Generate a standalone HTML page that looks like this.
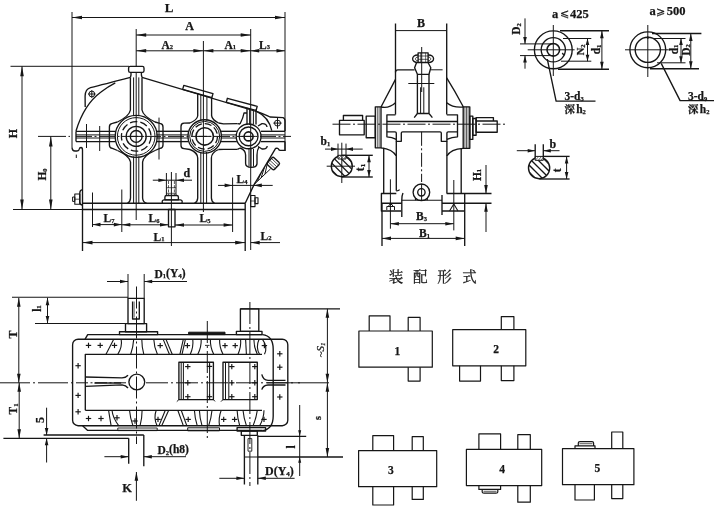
<!DOCTYPE html>
<html><head><meta charset="utf-8"><title>Gear reducer outline drawing</title>
<style>
html,body{margin:0;padding:0;background:#fff;}
body{width:720px;height:507px;overflow:hidden;}
svg{display:block;will-change:transform;}
svg text{font-family:"Liberation Serif","Noto Serif CJK SC",serif;fill:#161616;stroke:#161616;stroke-width:0.25px;}
</style></head><body>
<svg width="720" height="507" viewBox="0 0 720 507" fill="none" stroke="#161616" stroke-linecap="butt" stroke-linejoin="round">
<rect x="0" y="0" width="720" height="507" fill="#fff" stroke="none"/>
<g id="front-view">
<line x1="72.00" y1="12.00" x2="72.00" y2="147.40" stroke-width="1.0"/>
<line x1="285.00" y1="12.00" x2="285.00" y2="151.00" stroke-width="1.0"/>
<line x1="72.00" y1="17.50" x2="285.00" y2="17.50" stroke-width="1.0"/>
<polygon points="72.00,17.50 82.00,15.70 82.00,19.30" fill="#161616" stroke="none"/>
<polygon points="285.00,17.50 275.00,19.30 275.00,15.70" fill="#161616" stroke="none"/>
<text x="169.00" y="11.50" font-size="13" text-anchor="middle" font-weight="bold">L</text>
<line x1="136.20" y1="29.00" x2="136.20" y2="66.00" stroke-width="1.0"/>
<line x1="250.70" y1="29.00" x2="250.70" y2="250.00" stroke-width="1.0"/>
<line x1="136.20" y1="35.00" x2="250.70" y2="35.00" stroke-width="1.0"/>
<polygon points="136.20,35.00 146.20,33.20 146.20,36.80" fill="#161616" stroke="none"/>
<polygon points="250.70,35.00 240.70,36.80 240.70,33.20" fill="#161616" stroke="none"/>
<text x="189.50" y="29.50" font-size="12" text-anchor="middle" font-weight="bold">A</text>
<line x1="203.40" y1="41.00" x2="203.40" y2="212.00" stroke-width="1.0"/>
<line x1="136.20" y1="50.80" x2="203.40" y2="50.80" stroke-width="1.0"/>
<polygon points="136.20,50.80 146.20,49.00 146.20,52.60" fill="#161616" stroke="none"/>
<polygon points="203.40,50.80 193.40,52.60 193.40,49.00" fill="#161616" stroke="none"/>
<line x1="203.40" y1="50.80" x2="250.70" y2="50.80" stroke-width="1.0"/>
<polygon points="203.40,50.80 213.40,49.00 213.40,52.60" fill="#161616" stroke="none"/>
<polygon points="250.70,50.80 240.70,52.60 240.70,49.00" fill="#161616" stroke="none"/>
<line x1="250.70" y1="50.80" x2="285.00" y2="50.80" stroke-width="1.0"/>
<polygon points="250.70,50.80 259.20,49.00 259.20,52.60" fill="#161616" stroke="none"/>
<polygon points="285.00,50.80 276.50,52.60 276.50,49.00" fill="#161616" stroke="none"/>
<text x="161.50" y="48.50" font-size="11.5" text-anchor="start" font-weight="bold">A<tspan font-size="6.5" dy="0.8">2</tspan></text>
<text x="224.50" y="48.50" font-size="11.5" text-anchor="start" font-weight="bold">A<tspan font-size="6.5" dy="0.8">1</tspan></text>
<text x="259.00" y="48.50" font-size="11.5" text-anchor="start" font-weight="bold">L<tspan font-size="6.5" dy="0.8">3</tspan></text>
<line x1="10.50" y1="66.30" x2="129.00" y2="66.30" stroke-width="1.0"/>
<line x1="13.00" y1="209.50" x2="82.50" y2="209.50" stroke-width="1.0"/>
<line x1="22.00" y1="66.30" x2="22.00" y2="209.50" stroke-width="1.0"/>
<polygon points="22.00,66.30 23.80,76.30 20.20,76.30" fill="#161616" stroke="none"/>
<polygon points="22.00,209.50 20.20,199.50 23.80,199.50" fill="#161616" stroke="none"/>
<text x="17.00" y="133.50" font-size="12" text-anchor="middle" font-weight="bold" transform="rotate(-90 17.00 133.50)">H</text>
<line x1="50.80" y1="136.40" x2="50.80" y2="209.50" stroke-width="1.0"/>
<polygon points="50.80,136.40 52.60,146.40 49.00,146.40" fill="#161616" stroke="none"/>
<polygon points="50.80,209.50 49.00,199.50 52.60,199.50" fill="#161616" stroke="none"/>
<text x="46.00" y="174.50" font-size="11.5" text-anchor="middle" font-weight="bold" transform="rotate(-90 46.00 174.50)">H<tspan font-size="6.5" dy="0.8">0</tspan></text>
<line x1="38.00" y1="136.40" x2="66.00" y2="136.40" stroke-width="1.0"/>
<line x1="68.50" y1="136.40" x2="70.00" y2="136.40" stroke-width="1.0"/>
<line x1="76.00" y1="136.40" x2="291.00" y2="136.40" stroke-width="1.0" stroke-dasharray="16 2.5 2 2.5"/>
<line x1="136.20" y1="72.00" x2="136.20" y2="220.00" stroke-width="1.0"/>
<line x1="82.50" y1="203.20" x2="245.20" y2="203.20" stroke-width="1.35"/>
<line x1="82.50" y1="209.50" x2="245.20" y2="209.50" stroke-width="1.35"/>
<line x1="82.50" y1="150.00" x2="82.50" y2="251.00" stroke-width="1.35"/>
<line x1="245.20" y1="203.20" x2="245.20" y2="251.00" stroke-width="1.35"/>
<path d="M72,147.4 Q72.2,151 75,151 L77,151 Q79,151 79.3,149 Q79.5,147.5 81,147.5 Q82.5,147.6 82.5,150" stroke-width="1.35" fill="none"/>
<line x1="76.30" y1="154.60" x2="76.30" y2="158.00" stroke-width="1.0"/>
<line x1="76.00" y1="131.30" x2="115.50" y2="131.30" stroke-width="1.35"/>
<line x1="156.50" y1="131.30" x2="188.00" y2="131.30" stroke-width="1.35"/>
<line x1="221.00" y1="131.30" x2="236.80" y2="131.30" stroke-width="1.35"/>
<line x1="261.00" y1="131.30" x2="285.00" y2="131.30" stroke-width="1.35"/>
<line x1="76.00" y1="134.90" x2="115.50" y2="134.90" stroke-width="1.0"/>
<line x1="156.50" y1="134.90" x2="188.00" y2="134.90" stroke-width="1.0"/>
<line x1="221.00" y1="134.90" x2="236.80" y2="134.90" stroke-width="1.0"/>
<line x1="261.00" y1="134.90" x2="285.00" y2="134.90" stroke-width="1.0"/>
<line x1="76.00" y1="138.00" x2="115.50" y2="138.00" stroke-width="1.0"/>
<line x1="156.50" y1="138.00" x2="188.00" y2="138.00" stroke-width="1.0"/>
<line x1="221.00" y1="138.00" x2="236.80" y2="138.00" stroke-width="1.0"/>
<line x1="261.00" y1="138.00" x2="285.00" y2="138.00" stroke-width="1.0"/>
<line x1="76.00" y1="141.60" x2="115.50" y2="141.60" stroke-width="1.35"/>
<line x1="156.50" y1="141.60" x2="188.00" y2="141.60" stroke-width="1.35"/>
<line x1="221.00" y1="141.60" x2="236.80" y2="141.60" stroke-width="1.35"/>
<line x1="261.00" y1="141.60" x2="285.00" y2="141.60" stroke-width="1.35"/>
<line x1="76.00" y1="131.30" x2="76.00" y2="141.60" stroke-width="1.35"/>
<line x1="86.50" y1="124.00" x2="86.50" y2="148.00" stroke-width="1.0"/>
<line x1="99.70" y1="126.00" x2="99.70" y2="151.00" stroke-width="1.0"/>
<line x1="159.00" y1="117.60" x2="159.00" y2="159.50" stroke-width="1.0"/>
<path d="M76,131 C79,121 86,103 101,92 Q108,86.5 115.3,82.8" stroke-width="1.35" fill="none"/>
<path d="M85.2,107 L85.1,96 Q85.3,89 90.5,87.6 Q103,84.6 130.4,77.4" stroke-width="1.35" fill="none"/>
<circle cx="91.80" cy="94.00" r="2.90" stroke-width="1.0" fill="none"/>
<line x1="88.00" y1="94.00" x2="95.60" y2="94.00" stroke-width="1.0"/>
<line x1="91.80" y1="90.20" x2="91.80" y2="97.80" stroke-width="1.0"/>
<rect x="128.60" y="66.30" width="15.40" height="6.10" rx="1.6" stroke-width="1.35" fill="none"/>
<path d="M131,72.4 L131,75 L130.4,77.4 M141.4,72.4 L141.4,75 L142,77.4" stroke-width="1.35" fill="none"/>
<path d="M142,77.4 L257,111.7 Q266,115 270,117 L283,117.6 Q285,118.2 285,121 L285,131" stroke-width="1.35" fill="none"/>
<path d="M257,111.7 Q268.5,117 271.8,130.6" stroke-width="1.35" fill="none"/>
<circle cx="277.50" cy="123.10" r="3.00" stroke-width="1.0" fill="none"/>
<line x1="273.30" y1="123.10" x2="281.70" y2="123.10" stroke-width="1.0"/>
<line x1="277.50" y1="117.50" x2="277.50" y2="128.70" stroke-width="1.0"/>
<polygon points="183.80,85.40 213.00,93.60 211.86,97.64 182.66,89.44" stroke-width="1.35" fill="none"/>
<polygon points="227.40,98.30 257.20,106.30 256.11,110.36 226.31,102.36" stroke-width="1.35" fill="none"/>
<circle cx="136.20" cy="136.40" r="21.00" stroke-width="1.35" fill="none"/>
<circle cx="136.20" cy="136.40" r="18.80" stroke-width="1.0" fill="none"/>
<circle cx="136.20" cy="136.40" r="14.80" stroke-width="1.3" fill="none" stroke-dasharray="7.5 3"/>
<circle cx="136.20" cy="136.40" r="10.00" stroke-width="1.35" fill="none"/>
<circle cx="136.20" cy="136.40" r="5.90" stroke-width="1.35" fill="none"/>
<line x1="128.20" y1="136.40" x2="144.20" y2="136.40" stroke-width="1.0"/>
<line x1="130.40" y1="77.40" x2="130.40" y2="110.00" stroke-width="1.35"/>
<line x1="133.60" y1="77.40" x2="133.60" y2="116.00" stroke-width="1.0"/>
<line x1="138.80" y1="77.40" x2="138.80" y2="116.00" stroke-width="1.0"/>
<line x1="142.00" y1="77.40" x2="142.00" y2="110.00" stroke-width="1.35"/>
<path d="M130.4,110 Q129.5,116 117.5,122" stroke-width="1.35" fill="none"/>
<path d="M142,110 Q143,116 155,122" stroke-width="1.35" fill="none"/>
<path d="M117.5,122 L112.4,123.4 Q109.4,123.8 109.4,127 L109.4,145 Q109.4,148 112.4,148.4 L117.5,150.5" stroke-width="1.35" fill="none"/>
<path d="M155,122 L160,123.4 Q163,123.8 163,127 L163,145 Q163,148 160,148.4 L155,150.5" stroke-width="1.35" fill="none"/>
<path d="M117.5,150.5 Q129.5,156 130.5,162 L130.5,198 Q130.3,202 127.5,203.2" stroke-width="1.35" fill="none"/>
<path d="M155,150.5 Q143,156 142.6,162 L142.6,198 Q142.8,202 146.5,203.2" stroke-width="1.35" fill="none"/>
<line x1="133.60" y1="156.50" x2="133.60" y2="203.00" stroke-width="1.0"/>
<line x1="138.80" y1="156.50" x2="138.80" y2="203.00" stroke-width="1.0"/>
<circle cx="204.70" cy="136.40" r="16.70" stroke-width="1.35" fill="none"/>
<circle cx="204.70" cy="136.40" r="15.00" stroke-width="1.0" fill="none"/>
<circle cx="204.70" cy="136.40" r="12.80" stroke-width="1.3" fill="none" stroke-dasharray="7 3"/>
<circle cx="204.70" cy="136.40" r="8.70" stroke-width="1.6" fill="none"/>
<line x1="198.70" y1="136.40" x2="210.70" y2="136.40" stroke-width="1.0"/>
<line x1="197.70" y1="93.41" x2="197.70" y2="116.00" stroke-width="1.35"/>
<line x1="200.80" y1="94.28" x2="200.80" y2="121.00" stroke-width="1.0"/>
<line x1="206.90" y1="95.99" x2="206.90" y2="121.00" stroke-width="1.0"/>
<line x1="211.60" y1="97.31" x2="211.60" y2="116.00" stroke-width="1.35"/>
<path d="M197.7,116 Q197,120 190,123" stroke-width="1.35" fill="none"/>
<path d="M211.6,116 Q212.5,120 218.5,123" stroke-width="1.35" fill="none"/>
<path d="M190,123 L184,123.2 Q181,123.4 181,126.5 L181,145.5 Q181,148.3 184,148.6 L190,149.5" stroke-width="1.35" fill="none"/>
<path d="M218.5,123 L223.5,123.8 L237.5,123.6 M218.5,149.5 L223.5,149.3 L237.5,149.3" stroke-width="1.35" fill="none"/>
<path d="M190,149.5 Q197.5,152.5 197.7,158 L197.7,198 Q197.5,202 194.5,203.2" stroke-width="1.35" fill="none"/>
<path d="M218.5,149.5 Q211.5,152.5 211.4,158 L211.4,198 Q211.6,202 214.5,203.2" stroke-width="1.35" fill="none"/>
<line x1="200.80" y1="152.00" x2="200.80" y2="203.00" stroke-width="1.0"/>
<line x1="206.60" y1="152.00" x2="206.60" y2="203.00" stroke-width="1.0"/>
<circle cx="248.60" cy="136.40" r="12.40" stroke-width="1.35" fill="none"/>
<circle cx="248.60" cy="136.40" r="9.40" stroke-width="1.35" fill="none"/>
<circle cx="248.60" cy="136.40" r="4.50" stroke-width="1.6" fill="none"/>
<line x1="241.60" y1="136.40" x2="255.60" y2="136.40" stroke-width="1.0"/>
<line x1="247.00" y1="107.65" x2="247.00" y2="124.50" stroke-width="1.35"/>
<line x1="249.60" y1="108.35" x2="249.60" y2="124.50" stroke-width="1.0"/>
<line x1="253.40" y1="109.37" x2="253.40" y2="124.50" stroke-width="1.0"/>
<line x1="256.00" y1="110.06" x2="256.00" y2="124.50" stroke-width="1.35"/>
<path d="M247,113 L244,113 Q243.2,118 240,124" stroke-width="1.35" fill="none"/>
<path d="M240,124 L237.5,123.6 M237.5,149.3 L240,148" stroke-width="1.35" fill="none"/>
<path d="M258,126 L262,123.6 Q266.5,123.4 267,127 M258,146.5 L262,149 Q267,149.4 267.2,146 " stroke-width="1.35" fill="none"/>
<path d="M240,148 Q245.6,150 245.6,155 L245.6,163.6 Q245.6,167.4 251.3,167.4 Q257,167.4 257,163.6 L257,155 Q257,150 259,147" stroke-width="1.35" fill="none"/>
<line x1="249.00" y1="149.00" x2="249.00" y2="166.50" stroke-width="1.0"/>
<line x1="251.20" y1="149.00" x2="251.20" y2="167.00" stroke-width="0.7"/>
<line x1="253.50" y1="149.00" x2="253.50" y2="166.50" stroke-width="1.0"/>
<path d="M285,141.4 L285,150.4 L280.4,150.4 Q279,150.4 278.6,149.2 Q278.2,148.1 277,148.1 L275.6,148.3 L254.2,184.4 L245.2,203.2" stroke-width="1.35" fill="none"/>
<path d="M254.2,184.4 L270.6,168.8 M257.6,180.9 L260.8,173.5 M261.2,177.6 L264.4,167.5 M265,173.9 L267.6,162.2" stroke-width="1.0" fill="none"/>
<g transform="rotate(-47 273.4 163.6)">
<rect x="268.60" y="158.60" width="9.60" height="9.80" rx="1.8" stroke-width="1.35" fill="none"/>
<line x1="271.00" y1="158.60" x2="271.00" y2="168.40" stroke-width="0.7"/>
<line x1="273.40" y1="158.60" x2="273.40" y2="168.40" stroke-width="0.7"/>
<line x1="275.80" y1="158.60" x2="275.80" y2="168.40" stroke-width="0.7"/>
</g>
<path d="M82.5,189.6 Q79.8,190 79.8,193 L79.8,202 Q79.8,205 82.5,205" stroke-width="1.35" fill="none"/>
<rect x="74.80" y="194.00" width="5.00" height="10.30" rx="0" stroke-width="1.1" fill="none"/>
<line x1="74.80" y1="199.20" x2="79.80" y2="199.20" stroke-width="0.7"/>
<rect x="72.60" y="197.00" width="2.20" height="4.40" rx="0" stroke-width="1.0" fill="none"/>
<rect x="250.70" y="195.50" width="4.30" height="11.10" rx="0" stroke-width="1.1" fill="none"/>
<rect x="255.00" y="197.70" width="3.00" height="5.90" rx="0" stroke-width="1.1" fill="none"/>
<line x1="250.70" y1="201.00" x2="255.00" y2="201.00" stroke-width="0.7"/>
<line x1="166.40" y1="173.00" x2="166.40" y2="195.50" stroke-width="1.0"/>
<line x1="176.00" y1="173.00" x2="176.00" y2="195.50" stroke-width="1.0"/>
<line x1="168.50" y1="181.00" x2="168.50" y2="195.50" stroke-width="0.7" stroke-dasharray="3 1.2"/>
<line x1="174.40" y1="181.00" x2="174.40" y2="195.50" stroke-width="0.7" stroke-dasharray="3 1.2"/>
<line x1="166.40" y1="187.70" x2="176.00" y2="187.70" stroke-width="0.7"/>
<line x1="166.40" y1="193.30" x2="176.00" y2="193.30" stroke-width="0.7"/>
<path d="M164.9,199.8 L164.9,197 Q165,195.5 166.6,195.5 L176.8,195.5 Q178.3,195.5 178.4,197 L178.4,199.8 Z" stroke-width="1.35" fill="none"/>
<path d="M162.4,203.2 Q161.6,200 164,199.8 L180.4,199.8 Q182.8,200 182,203.2" stroke-width="1.35" fill="none"/>
<rect x="168.50" y="209.50" width="6.50" height="17.30" rx="0" stroke-width="1.35" fill="none"/>
<line x1="171.40" y1="172.00" x2="171.40" y2="246.00" stroke-width="1.0"/>
<line x1="152.80" y1="180.20" x2="192.00" y2="180.20" stroke-width="1.0"/>
<polygon points="166.40,180.20 158.40,182.00 158.40,178.40" fill="#161616" stroke="none"/>
<polygon points="176.00,180.20 184.00,178.40 184.00,182.00" fill="#161616" stroke="none"/>
<text x="183.50" y="176.60" font-size="12" text-anchor="start" font-weight="bold">d</text>
<line x1="232.60" y1="177.50" x2="232.60" y2="232.00" stroke-width="1.0"/>
<line x1="218.00" y1="185.40" x2="272.70" y2="185.40" stroke-width="1.0"/>
<polygon points="232.60,185.40 224.60,187.20 224.60,183.60" fill="#161616" stroke="none"/>
<polygon points="253.80,185.40 261.80,183.60 261.80,187.20" fill="#161616" stroke="none"/>
<text x="236.50" y="183.00" font-size="11.5" text-anchor="start" font-weight="bold">L<tspan font-size="6.5" dy="0.8">4</tspan></text>
<line x1="92.50" y1="192.50" x2="92.50" y2="227.00" stroke-width="1.0"/>
<line x1="121.80" y1="189.50" x2="121.80" y2="232.00" stroke-width="1.0"/>
<line x1="92.50" y1="224.60" x2="121.80" y2="224.60" stroke-width="1.0"/>
<polygon points="92.50,224.60 100.50,222.80 100.50,226.40" fill="#161616" stroke="none"/>
<polygon points="121.80,224.60 113.80,226.40 113.80,222.80" fill="#161616" stroke="none"/>
<line x1="121.80" y1="224.80" x2="168.50" y2="224.80" stroke-width="1.0"/>
<polygon points="121.80,224.80 130.30,223.00 130.30,226.60" fill="#161616" stroke="none"/>
<polygon points="168.50,224.80 160.00,226.60 160.00,223.00" fill="#161616" stroke="none"/>
<line x1="175.00" y1="225.00" x2="232.60" y2="225.00" stroke-width="1.0"/>
<polygon points="175.00,225.00 184.00,223.20 184.00,226.80" fill="#161616" stroke="none"/>
<polygon points="232.60,225.00 223.60,226.80 223.60,223.20" fill="#161616" stroke="none"/>
<text x="103.50" y="222.00" font-size="11.5" text-anchor="start" font-weight="bold">L<tspan font-size="6.5" dy="0.8">7</tspan></text>
<text x="148.50" y="222.00" font-size="11.5" text-anchor="start" font-weight="bold">L<tspan font-size="6.5" dy="0.8">6</tspan></text>
<text x="199.50" y="221.80" font-size="11.5" text-anchor="start" font-weight="bold">L<tspan font-size="6.5" dy="0.8">5</tspan></text>
<line x1="82.50" y1="242.60" x2="245.20" y2="242.60" stroke-width="1.0"/>
<polygon points="82.50,242.60 92.50,240.80 92.50,244.40" fill="#161616" stroke="none"/>
<polygon points="245.20,242.60 235.20,244.40 235.20,240.80" fill="#161616" stroke="none"/>
<text x="153.50" y="240.50" font-size="11.5" text-anchor="start" font-weight="bold">L<tspan font-size="6.5" dy="0.8">1</tspan></text>
<line x1="250.70" y1="242.60" x2="280.00" y2="242.60" stroke-width="1.0"/>
<polygon points="250.70,242.60 259.70,240.80 259.70,244.40" fill="#161616" stroke="none"/>
<text x="260.50" y="239.50" font-size="11.5" text-anchor="start" font-weight="bold">L<tspan font-size="6.5" dy="0.8">2</tspan></text>
</g>
<g id="side-view">
<line x1="395.50" y1="23.50" x2="395.50" y2="114.60" stroke-width="1.35"/>
<line x1="446.70" y1="23.50" x2="446.70" y2="114.60" stroke-width="1.35"/>
<line x1="395.50" y1="30.60" x2="446.70" y2="30.60" stroke-width="1.0"/>
<polygon points="395.50,30.60 395.51,28.80 395.51,32.40" fill="#161616" stroke="none"/>
<polygon points="446.70,30.60 446.69,32.40 446.69,28.80" fill="#161616" stroke="none"/>
<text x="421.00" y="26.50" font-size="12" text-anchor="middle" font-weight="bold">B</text>
<path d="M395.5,72.2 Q395.5,69.8 397.8,69.8 L414.6,69.8" stroke-width="1.35" fill="none"/>
<line x1="430.80" y1="69.80" x2="442.60" y2="69.80" stroke-width="1.0"/>
<line x1="408.30" y1="83.50" x2="434.30" y2="83.50" stroke-width="1.0"/>
<line x1="421.70" y1="47.00" x2="421.70" y2="92.00" stroke-width="1.0"/>
<rect x="418.10" y="52.80" width="10.00" height="9.70" rx="0" stroke-width="1.35" fill="none"/>
<line x1="418.10" y1="56.00" x2="428.10" y2="56.00" stroke-width="0.7"/>
<line x1="418.10" y1="59.30" x2="428.10" y2="59.30" stroke-width="0.7"/>
<line x1="420.60" y1="52.80" x2="420.60" y2="62.50" stroke-width="0.6"/>
<line x1="425.60" y1="52.80" x2="425.60" y2="62.50" stroke-width="0.6"/>
<path d="M418.1,55 C411,54.6 410.6,62.7 418.1,62.5 M428.1,55 C435.2,54.6 435.6,62.7 428.1,62.5" stroke-width="1.35" fill="none"/>
<path d="M418.1,57 C414.6,57 414.6,60.8 418.1,60.8 M428.1,57 C431.6,57 431.6,60.8 428.1,60.8" stroke-width="0.8" fill="none"/>
<path d="M416.6,62.5 L414.6,67.8 L417.4,74.3 L429,74.3 L430.8,67.8 L428,62.5" stroke-width="1.35" fill="none"/>
<line x1="417.40" y1="74.30" x2="417.40" y2="113.50" stroke-width="1.35"/>
<line x1="429.00" y1="74.30" x2="429.00" y2="113.50" stroke-width="1.35"/>
<line x1="420.60" y1="87.30" x2="420.60" y2="113.50" stroke-width="1.0"/>
<line x1="423.80" y1="87.30" x2="423.80" y2="113.50" stroke-width="1.0"/>
<path d="M417.4,113.5 L414.2,117.6 M429,113.5 L432.4,117.6 M417.4,113.5 L429,113.5" stroke-width="1.35" fill="none"/>
<path d="M395.5,79.4 L381,107 M381,107 Q389,108.8 395.5,102.8" stroke-width="1.35" fill="none"/>
<path d="M446.7,77.8 Q455,91 463.4,107 M463.4,107 Q453,108 446.7,102.8" stroke-width="1.35" fill="none"/>
<rect x="375.30" y="106.80" width="5.70" height="41.00" rx="0" stroke-width="1.35" fill="none"/>
<line x1="377.30" y1="106.80" x2="377.30" y2="147.80" stroke-width="0.7"/>
<line x1="379.10" y1="106.80" x2="379.10" y2="147.80" stroke-width="0.7"/>
<rect x="463.20" y="106.80" width="6.60" height="41.50" rx="0" stroke-width="1.35" fill="none"/>
<line x1="464.90" y1="106.80" x2="464.90" y2="148.30" stroke-width="0.7"/>
<line x1="466.50" y1="106.80" x2="466.50" y2="148.30" stroke-width="0.7"/>
<line x1="468.10" y1="106.80" x2="468.10" y2="148.30" stroke-width="0.7"/>
<rect x="339.50" y="120.40" width="24.70" height="14.40" rx="0" stroke-width="1.35" fill="none"/>
<path d="M343.4,120.2 L343.4,115.5 L362.6,115.5 L362.6,120.2" stroke-width="1.35" fill="none"/>
<rect x="366.20" y="116.10" width="9.10" height="21.60" rx="0" stroke-width="1.35" fill="none"/>
<rect x="469.80" y="116.10" width="3.00" height="23.30" rx="0" stroke-width="1.35" fill="none"/>
<rect x="472.80" y="118.50" width="3.30" height="16.70" rx="0" stroke-width="1.35" fill="none"/>
<rect x="476.10" y="121.00" width="21.10" height="11.20" rx="0" stroke-width="1.35" fill="none"/>
<path d="M476.1,121 L476.1,117.6 L493.4,117.6 L493.4,121" stroke-width="1.35" fill="none"/>
<line x1="332.50" y1="124.20" x2="507.00" y2="124.20" stroke-width="1.0" stroke-dasharray="18 2.5 2 2.5"/>
<path d="M395.5,114.8 L386.9,114.8 L386.9,136.8 Q392,136.9 396.3,139.4" stroke-width="1.35" fill="none"/>
<path d="M446.8,114.8 L457.5,114.8 L457.5,136.8 Q452,136.9 446.9,139.4" stroke-width="1.35" fill="none"/>
<line x1="386.90" y1="121.50" x2="457.50" y2="121.50" stroke-width="1.6"/>
<path d="M386.9,131.8 L395,131.8 Q396.3,131.8 396.3,133 L396.3,141.3 L401.3,141.3 L401.3,133 Q401.3,131.8 402.6,131.8 L440,131.8 Q441.3,131.8 441.3,133 L441.3,141.3 L446.9,141.3 L446.9,133 Q446.9,131.8 448.2,131.8 L457.5,131.8" stroke-width="1.35" fill="none"/>
<line x1="396.30" y1="141.30" x2="396.30" y2="156.00" stroke-width="1.35"/>
<line x1="446.90" y1="141.30" x2="446.90" y2="156.00" stroke-width="1.35"/>
<path d="M381,147.8 Q392.5,149 396.3,156 L396.3,190.8" stroke-width="1.35" fill="none"/>
<path d="M463.2,148.3 Q450.7,149 446.9,156 L446.9,193.5" stroke-width="1.35" fill="none"/>
<line x1="383.70" y1="147.80" x2="383.70" y2="193.50" stroke-width="1.35"/>
<line x1="461.20" y1="148.30" x2="461.20" y2="193.50" stroke-width="1.35"/>
<line x1="421.60" y1="131.80" x2="421.60" y2="182.00" stroke-width="1.0" stroke-dasharray="14 2.5 2 2.5"/>
<circle cx="421.40" cy="192.30" r="8.30" stroke-width="1.35" fill="none"/>
<circle cx="421.40" cy="192.30" r="3.70" stroke-width="1.35" fill="none"/>
<line x1="421.60" y1="184.00" x2="421.60" y2="201.00" stroke-width="1.0"/>
<path d="M415.6,198.3 L415.6,200.2 M427.2,198.3 L427.2,200.2" stroke-width="1.35" fill="none"/>
<path d="M396.3,193.5 L381.4,193.5 L381.4,211 L401,211 M381.4,203.2 L401.8,203.2" stroke-width="1.35" fill="none"/>
<path d="M396.3,190.8 Q398.5,191 399.6,189.6 M403,193 Q401.6,196 401.8,200 M401.8,200 L401.8,217" stroke-width="1.35" fill="none"/>
<line x1="401.80" y1="200.20" x2="442.00" y2="200.20" stroke-width="1.1"/>
<path d="M442,195 L442,215 M442,203.2 L491.5,203.2 M442,211 L464.7,211" stroke-width="1.35" fill="none"/>
<path d="M446.7,193.5 L491.5,193.5" stroke-width="1.35" fill="none"/>
<line x1="464.70" y1="193.50" x2="464.70" y2="246.00" stroke-width="1.35"/>
<line x1="382.00" y1="203.20" x2="382.00" y2="246.00" stroke-width="1.35"/>
<path d="M449.5,211 L453.8,204 L458,211" stroke-width="1.1" fill="none"/>
<path d="M386.8,210 L386.8,206.5 L394.5,206.5 L394.5,210 M388.5,206.5 L389.5,204.5 L392,204.5 L393,206.5" stroke-width="1.0" fill="none"/>
<line x1="390.40" y1="179.30" x2="390.40" y2="228.70" stroke-width="1.0"/>
<line x1="453.80" y1="180.00" x2="453.80" y2="230.40" stroke-width="1.0"/>
<line x1="390.40" y1="223.70" x2="453.80" y2="223.70" stroke-width="1.0"/>
<polygon points="390.40,223.70 398.90,221.90 398.90,225.50" fill="#161616" stroke="none"/>
<polygon points="453.80,223.70 445.30,225.50 445.30,221.90" fill="#161616" stroke="none"/>
<text x="416.00" y="219.80" font-size="11.5" text-anchor="start" font-weight="bold">B<tspan font-size="6.5" dy="0.8">3</tspan></text>
<line x1="382.00" y1="238.40" x2="464.70" y2="238.40" stroke-width="1.0"/>
<polygon points="382.00,238.40 391.00,236.60 391.00,240.20" fill="#161616" stroke="none"/>
<polygon points="464.70,238.40 455.70,240.20 455.70,236.60" fill="#161616" stroke="none"/>
<text x="419.00" y="237.20" font-size="11.5" text-anchor="start" font-weight="bold">B<tspan font-size="6.5" dy="0.8">1</tspan></text>
<line x1="486.00" y1="165.00" x2="486.00" y2="193.50" stroke-width="1.0"/>
<polygon points="486.00,193.50 484.20,185.00 487.80,185.00" fill="#161616" stroke="none"/>
<line x1="486.00" y1="203.20" x2="486.00" y2="232.00" stroke-width="1.0"/>
<polygon points="486.00,203.20 487.80,211.70 484.20,211.70" fill="#161616" stroke="none"/>
<text x="480.50" y="175.00" font-size="11.5" text-anchor="middle" font-weight="bold" transform="rotate(-90 480.50 175.00)">H<tspan font-size="6.5" dy="0.8">1</tspan></text>
</g>
<g id="details">
<text x="552.00" y="17.60" font-size="12.5" text-anchor="start" font-weight="bold">a</text>
<text x="559.60" y="17.40" font-size="10.8" text-anchor="start" font-weight="normal" font-family='"DejaVu Sans","Liberation Serif",sans-serif'>⩽</text>
<text x="570.00" y="17.60" font-size="12.5" text-anchor="start" font-weight="bold">425</text>
<circle cx="553.30" cy="49.80" r="18.90" stroke-width="1.35" fill="none"/>
<circle cx="553.30" cy="49.80" r="12.10" stroke-width="1.35" fill="none"/>
<circle cx="553.30" cy="49.80" r="6.30" stroke-width="1.6" fill="none"/>
<line x1="553.30" y1="25.00" x2="553.30" y2="76.00" stroke-width="1.0"/>
<line x1="527.70" y1="49.80" x2="574.60" y2="49.80" stroke-width="1.0"/>
<line x1="520.00" y1="43.90" x2="553.00" y2="43.90" stroke-width="1.0"/>
<line x1="520.00" y1="55.60" x2="553.00" y2="55.60" stroke-width="1.0"/>
<line x1="525.00" y1="18.40" x2="525.00" y2="43.90" stroke-width="1.0"/>
<polygon points="525.00,43.90 523.20,36.90 526.80,36.90" fill="#161616" stroke="none"/>
<line x1="525.00" y1="55.60" x2="525.00" y2="68.70" stroke-width="1.0"/>
<polygon points="525.00,55.60 526.80,62.60 523.20,62.60" fill="#161616" stroke="none"/>
<text x="520.30" y="29.00" font-size="11.5" text-anchor="middle" font-weight="bold" transform="rotate(-90 520.30 29.00)">D<tspan font-size="6.5" dy="0.8">2</tspan></text>
<line x1="560.00" y1="30.70" x2="609.00" y2="30.70" stroke-width="1.35"/>
<line x1="558.00" y1="69.20" x2="609.00" y2="69.20" stroke-width="1.35"/>
<line x1="601.90" y1="30.70" x2="601.90" y2="69.20" stroke-width="1.0"/>
<polygon points="601.90,30.70 603.70,38.20 600.10,38.20" fill="#161616" stroke="none"/>
<polygon points="601.90,69.20 600.10,61.70 603.70,61.70" fill="#161616" stroke="none"/>
<text x="600.00" y="49.50" font-size="11.5" text-anchor="middle" font-weight="bold" transform="rotate(-90 600.00 49.50)">d<tspan font-size="6.5" dy="0.8">1</tspan></text>
<line x1="563.00" y1="38.50" x2="591.30" y2="38.50" stroke-width="1.0"/>
<line x1="561.00" y1="61.20" x2="591.30" y2="61.20" stroke-width="1.0"/>
<line x1="587.50" y1="38.50" x2="587.50" y2="61.20" stroke-width="1.0"/>
<polygon points="587.50,38.50 589.30,45.00 585.70,45.00" fill="#161616" stroke="none"/>
<polygon points="587.50,61.20 585.70,54.70 589.30,54.70" fill="#161616" stroke="none"/>
<text x="584.30" y="49.80" font-size="10.5" text-anchor="middle" font-weight="bold" transform="rotate(-90 584.30 49.80)">N<tspan font-size="6.5" dy="0.8">2</tspan></text>
<path d="M562.3,53 L563.8,55.2" stroke-width="1.35" fill="none"/>
<path d="M547.3,59.2 L556.1,101.1 L595.5,101.1" stroke-width="1.35" fill="none"/>
<text x="564.50" y="100.20" font-size="11.5" text-anchor="start" font-weight="bold">3-d<tspan font-size="6.5" dy="0.8">3</tspan></text>
<text x="564.60" y="112.80" font-size="10.5" text-anchor="start" font-weight="bold" font-family='"Liberation Serif","Noto Serif CJK SC",serif'>深</text>
<text x="576.20" y="113.20" font-size="11.5" text-anchor="start" font-weight="bold">h<tspan font-size="6.5" dy="0.8">2</tspan></text>
<text x="649.40" y="15.00" font-size="12.5" text-anchor="start" font-weight="bold">a</text>
<text x="656.40" y="14.80" font-size="10.8" text-anchor="start" font-weight="normal" font-family='"DejaVu Sans","Liberation Serif",sans-serif'>⩾</text>
<text x="666.80" y="15.00" font-size="12.5" text-anchor="start" font-weight="bold">500</text>
<circle cx="647.80" cy="49.80" r="17.90" stroke-width="1.35" fill="none"/>
<circle cx="647.80" cy="49.80" r="12.60" stroke-width="1.4" fill="none"/>
<line x1="647.80" y1="25.00" x2="647.80" y2="77.00" stroke-width="1.0"/>
<line x1="625.00" y1="49.80" x2="668.70" y2="49.80" stroke-width="1.0"/>
<line x1="652.00" y1="33.50" x2="701.40" y2="33.50" stroke-width="1.35"/>
<line x1="650.00" y1="68.70" x2="699.00" y2="68.70" stroke-width="1.35"/>
<line x1="690.80" y1="33.50" x2="690.80" y2="68.70" stroke-width="1.0"/>
<polygon points="690.80,33.50 692.60,41.00 689.00,41.00" fill="#161616" stroke="none"/>
<polygon points="690.80,68.70 689.00,61.20 692.60,61.20" fill="#161616" stroke="none"/>
<text x="689.50" y="50.00" font-size="11.5" text-anchor="middle" font-weight="bold" transform="rotate(-90 689.50 50.00)">D<tspan font-size="6.5" dy="0.8">2</tspan></text>
<line x1="654.00" y1="38.50" x2="685.50" y2="38.50" stroke-width="1.0"/>
<line x1="657.00" y1="62.80" x2="685.50" y2="62.80" stroke-width="1.0"/>
<line x1="681.00" y1="38.50" x2="681.00" y2="62.80" stroke-width="1.0"/>
<polygon points="681.00,38.50 682.80,45.00 679.20,45.00" fill="#161616" stroke="none"/>
<polygon points="681.00,62.80 679.20,56.30 682.80,56.30" fill="#161616" stroke="none"/>
<text x="677.60" y="49.50" font-size="11.5" text-anchor="middle" font-weight="bold" transform="rotate(-90 677.60 49.50)">d<tspan font-size="6.5" dy="0.8">1</tspan></text>
<circle cx="647.80" cy="37.60" r="0.90" stroke-width="0.8" fill="#161616"/>
<path d="M661.2,63.4 L680.1,100.6 L714,100.6" stroke-width="1.35" fill="none"/>
<text x="688.00" y="99.80" font-size="11.5" text-anchor="start" font-weight="bold">3-d<tspan font-size="6.5" dy="0.8">9</tspan></text>
<text x="688.00" y="112.60" font-size="10.5" text-anchor="start" font-weight="bold" font-family='"Liberation Serif","Noto Serif CJK SC",serif'>深</text>
<text x="699.80" y="113.00" font-size="11.5" text-anchor="start" font-weight="bold">h<tspan font-size="6.5" dy="0.8">2</tspan></text>
<defs><clipPath id="k1"><circle cx="341.8" cy="166.2" r="10.4"/></clipPath><clipPath id="k2"><circle cx="539.1" cy="168.1" r="10.5"/></clipPath></defs>
<circle cx="341.80" cy="166.20" r="10.50" stroke-width="1.4" fill="none"/>
<g clip-path="url(#k1)">
<line x1="315.80" y1="154.20" x2="339.80" y2="178.20" stroke-width="1.3"/>
<line x1="322.80" y1="154.20" x2="346.80" y2="178.20" stroke-width="1.3"/>
<line x1="329.80" y1="154.20" x2="353.80" y2="178.20" stroke-width="1.3"/>
<line x1="336.80" y1="154.20" x2="360.80" y2="178.20" stroke-width="1.3"/>
<line x1="343.80" y1="154.20" x2="367.80" y2="178.20" stroke-width="1.3"/>
</g>
<rect x="338.00" y="155.30" width="8.00" height="3.70" rx="0" stroke-width="1.0" fill="#fff"/>
<path d="M338.6,158.5 L341,155.8 M341.3,158.7 L343.7,155.8 M344,158.7 L345.6,156.5" stroke-width="0.6" fill="none"/>
<line x1="326.70" y1="166.20" x2="355.00" y2="166.20" stroke-width="1.0"/>
<line x1="341.80" y1="142.70" x2="341.80" y2="183.00" stroke-width="1.0"/>
<line x1="338.00" y1="143.60" x2="338.00" y2="157.00" stroke-width="1.0"/>
<line x1="346.00" y1="143.60" x2="346.00" y2="157.00" stroke-width="1.0"/>
<line x1="325.00" y1="149.10" x2="362.70" y2="149.10" stroke-width="1.0"/>
<polygon points="338.00,149.10 331.00,150.90 331.00,147.30" fill="#161616" stroke="none"/>
<polygon points="346.00,149.10 353.00,147.30 353.00,150.90" fill="#161616" stroke="none"/>
<text x="320.50" y="144.80" font-size="11.5" text-anchor="start" font-weight="bold">b<tspan font-size="6.5" dy="0.8">1</tspan></text>
<line x1="341.80" y1="155.30" x2="372.80" y2="155.30" stroke-width="1.35"/>
<line x1="341.80" y1="177.00" x2="372.80" y2="177.00" stroke-width="1.35"/>
<line x1="369.00" y1="155.30" x2="369.00" y2="177.00" stroke-width="1.0"/>
<polygon points="369.00,155.30 370.80,162.30 367.20,162.30" fill="#161616" stroke="none"/>
<polygon points="369.00,177.00 367.20,170.00 370.80,170.00" fill="#161616" stroke="none"/>
<text x="364.30" y="167.50" font-size="11.5" text-anchor="middle" font-weight="bold" transform="rotate(-90 364.30 167.50)">t<tspan font-size="7" dy="0.8">1</tspan></text>
<circle cx="539.10" cy="168.10" r="10.60" stroke-width="1.4" fill="none"/>
<g clip-path="url(#k2)">
<line x1="513.10" y1="156.10" x2="537.10" y2="180.10" stroke-width="1.3"/>
<line x1="520.10" y1="156.10" x2="544.10" y2="180.10" stroke-width="1.3"/>
<line x1="527.10" y1="156.10" x2="551.10" y2="180.10" stroke-width="1.3"/>
<line x1="534.10" y1="156.10" x2="558.10" y2="180.10" stroke-width="1.3"/>
<line x1="541.10" y1="156.10" x2="565.10" y2="180.10" stroke-width="1.3"/>
</g>
<rect x="535.20" y="156.40" width="8.10" height="3.90" rx="0" stroke-width="1.0" fill="#fff"/>
<path d="M535.8,159.8 L538.2,157 M538.6,160 L541,157 M541.3,160 L542.9,157.8" stroke-width="0.6" fill="none"/>
<line x1="535.20" y1="144.30" x2="535.20" y2="157.70" stroke-width="1.35"/>
<line x1="543.30" y1="144.30" x2="543.30" y2="157.70" stroke-width="1.35"/>
<line x1="516.80" y1="150.70" x2="535.20" y2="150.70" stroke-width="1.0"/>
<polygon points="535.20,150.70 527.70,152.50 527.70,148.90" fill="#161616" stroke="none"/>
<line x1="543.30" y1="150.70" x2="559.50" y2="150.70" stroke-width="1.0"/>
<polygon points="543.30,150.70 550.80,148.90 550.80,152.50" fill="#161616" stroke="none"/>
<text x="549.60" y="147.70" font-size="12" text-anchor="start" font-weight="bold">b</text>
<line x1="543.60" y1="156.40" x2="569.60" y2="156.40" stroke-width="1.35"/>
<line x1="539.40" y1="179.00" x2="569.60" y2="179.00" stroke-width="1.35"/>
<line x1="566.60" y1="156.40" x2="566.60" y2="179.00" stroke-width="1.0"/>
<polygon points="566.60,156.40 568.40,163.40 564.80,163.40" fill="#161616" stroke="none"/>
<polygon points="566.60,179.00 564.80,172.00 568.40,172.00" fill="#161616" stroke="none"/>
<text x="561.00" y="170.30" font-size="11.5" text-anchor="middle" font-weight="bold" transform="rotate(-90 561.00 170.30)">t</text>
</g>
<g id="plan-view">
<rect x="72.60" y="339.20" width="215.20" height="86.50" rx="5.5" stroke-width="1.35" fill="none"/>
<path d="M85.3,410.3 L85.3,354.3 L262,354.3 M85.3,410.3 L262,410.3" stroke-width="1.35" fill="none"/>
<path d="M262.5,334.6 Q273.2,336 273.2,349 L273.2,416 Q273.2,429 262.5,430.6" stroke-width="1.35" fill="none"/>
<path d="M85.1,339.2 L87.7,334.6 L262.5,334.6" stroke-width="1.35" fill="none"/>
<path d="M82.6,425.7 L87.7,430.4 L262.5,430.4" stroke-width="1.35" fill="none"/>
<line x1="0.00" y1="382.80" x2="72.00" y2="382.80" stroke-width="1.0" stroke-dasharray="30 3 2 3"/>
<line x1="76.00" y1="382.80" x2="128.00" y2="382.80" stroke-width="1.0" stroke-dasharray="12 2.5 2 2.5"/>
<line x1="146.00" y1="382.80" x2="296.00" y2="382.80" stroke-width="1.0" stroke-dasharray="22 3 2 3"/>
<line x1="298.00" y1="382.80" x2="329.00" y2="382.80" stroke-width="1.0"/>
<line x1="136.50" y1="286.50" x2="136.50" y2="444.00" stroke-width="1.0" stroke-dasharray="22 3 2 3"/>
<line x1="207.30" y1="321.00" x2="207.30" y2="440.50" stroke-width="1.0" stroke-dasharray="22 3 2 3"/>
<line x1="249.90" y1="302.00" x2="249.90" y2="486.00" stroke-width="1.0" stroke-dasharray="22 3 2 3"/>
<circle cx="136.80" cy="382.00" r="7.90" stroke-width="1.35" fill="none"/>
<path d="M85.3,377 L122,377.8 Q126,377.6 128,375.2" stroke-width="1.35" fill="none"/>
<path d="M85.3,386.3 L122,384.8 Q126,385.2 128,388" stroke-width="1.35" fill="none"/>
<line x1="94.40" y1="383.00" x2="121.20" y2="383.00" stroke-width="1.4"/>
<path d="M261.8,374.4 Q263,380 268,380.3 L285.5,380.3 M261.8,389.6 Q263,385.3 268,385 L285.5,385" stroke-width="1.35" fill="none"/>
<line x1="267.00" y1="382.80" x2="300.00" y2="382.80" stroke-width="1.0"/>
<path d="M113.6,339.4 Q109.8,346.9 106.0,354.3" stroke-width="1.1" fill="none"/>
<path d="M121.2,339.4 Q122.5,346.9 117.8,354.3" stroke-width="1.1" fill="none"/>
<path d="M133.7,339.4 Q133.2,346.9 130.7,354.3" stroke-width="1.1" fill="none"/>
<path d="M141.8,339.4 Q141.8,346.9 143.8,354.3" stroke-width="1.1" fill="none"/>
<path d="M153.8,339.4 Q154.1,346.9 157.4,354.3" stroke-width="1.1" fill="none"/>
<path d="M163.2,339.4 Q166.3,346.9 169.4,354.3" stroke-width="1.1" fill="none"/>
<path d="M166.0,339.4 Q169.1,346.9 172.2,354.3" stroke-width="1.1" fill="none"/>
<path d="M183.3,339.4 Q181.6,346.9 179.9,354.3" stroke-width="1.1" fill="none"/>
<path d="M185.4,339.4 Q183.7,346.9 182.0,354.3" stroke-width="1.1" fill="none"/>
<path d="M192.8,339.4 Q193.6,346.9 190.3,354.3" stroke-width="1.1" fill="none"/>
<path d="M201.2,339.4 Q201.5,346.9 197.8,354.3" stroke-width="1.1" fill="none"/>
<path d="M210.4,339.4 Q210.1,346.9 213.7,354.3" stroke-width="1.1" fill="none"/>
<path d="M219.6,339.4 Q219.3,346.9 223.0,354.3" stroke-width="1.1" fill="none"/>
<path d="M240.6,339.4 Q241.3,346.9 238.0,354.3" stroke-width="1.1" fill="none"/>
<path d="M245.6,339.4 Q246.0,346.9 246.4,354.3" stroke-width="1.1" fill="none"/>
<path d="M254.0,339.4 Q253.7,346.9 257.3,354.3" stroke-width="1.1" fill="none"/>
<path d="M259,339.4 Q255.5,347 259.5,354.3 M262.5,339.4 Q268,347 264.5,354.3" stroke-width="1.1" fill="none"/>
<path d="M108.6,410.3 Q109.8,418.0 111.1,425.6" stroke-width="1.1" fill="none"/>
<path d="M112.0,410.3 Q112.8,418.0 118.7,425.6" stroke-width="1.1" fill="none"/>
<path d="M129.5,410.3 Q130.2,418.0 132.9,425.6" stroke-width="1.1" fill="none"/>
<path d="M142.1,410.3 Q142.1,418.0 140.1,425.6" stroke-width="1.1" fill="none"/>
<path d="M156.2,410.3 Q153.4,418.0 157.0,425.6" stroke-width="1.1" fill="none"/>
<path d="M165.3,410.3 Q162.2,418.0 159.0,425.6" stroke-width="1.1" fill="none"/>
<path d="M168.7,410.3 Q165.2,418.0 161.8,425.6" stroke-width="1.1" fill="none"/>
<path d="M177.8,410.3 Q180.6,418.0 183.3,425.6" stroke-width="1.1" fill="none"/>
<path d="M181.2,410.3 Q184.0,418.0 186.8,425.6" stroke-width="1.1" fill="none"/>
<path d="M194.4,410.3 Q194.8,418.0 197.2,425.6" stroke-width="1.1" fill="none"/>
<path d="M199.4,410.3 Q199.7,418.0 202.0,425.6" stroke-width="1.1" fill="none"/>
<path d="M212.0,410.3 Q211.3,418.0 208.7,425.6" stroke-width="1.1" fill="none"/>
<path d="M221.2,410.3 Q218.3,418.0 219.5,425.6" stroke-width="1.1" fill="none"/>
<path d="M237.1,410.3 Q237.4,418.0 239.7,425.6" stroke-width="1.1" fill="none"/>
<path d="M243.0,410.3 Q243.7,418.0 246.4,425.6" stroke-width="1.1" fill="none"/>
<path d="M257.3,410.3 Q256.2,418.0 253.1,425.6" stroke-width="1.1" fill="none"/>
<path d="M264.0,410.3 Q263.9,418.0 259.8,425.6" stroke-width="1.1" fill="none"/>
<line x1="85.80" y1="345.40" x2="91.20" y2="345.40" stroke-width="1.15"/>
<line x1="88.50" y1="342.70" x2="88.50" y2="348.10" stroke-width="1.15"/>
<line x1="97.50" y1="345.40" x2="102.90" y2="345.40" stroke-width="1.15"/>
<line x1="100.20" y1="342.70" x2="100.20" y2="348.10" stroke-width="1.15"/>
<line x1="111.80" y1="345.40" x2="117.20" y2="345.40" stroke-width="1.15"/>
<line x1="114.50" y1="342.70" x2="114.50" y2="348.10" stroke-width="1.15"/>
<line x1="157.50" y1="345.60" x2="162.90" y2="345.60" stroke-width="1.15"/>
<line x1="160.20" y1="342.90" x2="160.20" y2="348.30" stroke-width="1.15"/>
<line x1="184.70" y1="345.60" x2="190.10" y2="345.60" stroke-width="1.15"/>
<line x1="187.40" y1="342.90" x2="187.40" y2="348.30" stroke-width="1.15"/>
<line x1="222.30" y1="345.60" x2="227.70" y2="345.60" stroke-width="1.15"/>
<line x1="225.00" y1="342.90" x2="225.00" y2="348.30" stroke-width="1.15"/>
<line x1="232.50" y1="345.60" x2="237.90" y2="345.60" stroke-width="1.15"/>
<line x1="235.20" y1="342.90" x2="235.20" y2="348.30" stroke-width="1.15"/>
<line x1="261.70" y1="345.60" x2="267.10" y2="345.60" stroke-width="1.15"/>
<line x1="264.40" y1="342.90" x2="264.40" y2="348.30" stroke-width="1.15"/>
<line x1="75.40" y1="365.70" x2="80.80" y2="365.70" stroke-width="1.15"/>
<line x1="78.10" y1="363.00" x2="78.10" y2="368.40" stroke-width="1.15"/>
<line x1="75.40" y1="395.40" x2="80.80" y2="395.40" stroke-width="1.15"/>
<line x1="78.10" y1="392.70" x2="78.10" y2="398.10" stroke-width="1.15"/>
<line x1="75.40" y1="411.80" x2="80.80" y2="411.80" stroke-width="1.15"/>
<line x1="78.10" y1="409.10" x2="78.10" y2="414.50" stroke-width="1.15"/>
<line x1="85.80" y1="418.50" x2="91.20" y2="418.50" stroke-width="1.15"/>
<line x1="88.50" y1="415.80" x2="88.50" y2="421.20" stroke-width="1.15"/>
<line x1="98.30" y1="418.50" x2="103.70" y2="418.50" stroke-width="1.15"/>
<line x1="101.00" y1="415.80" x2="101.00" y2="421.20" stroke-width="1.15"/>
<line x1="114.30" y1="417.80" x2="119.70" y2="417.80" stroke-width="1.15"/>
<line x1="117.00" y1="415.10" x2="117.00" y2="420.50" stroke-width="1.15"/>
<line x1="132.30" y1="421.00" x2="137.70" y2="421.00" stroke-width="1.15"/>
<line x1="135.00" y1="418.30" x2="135.00" y2="423.70" stroke-width="1.15"/>
<line x1="155.30" y1="419.40" x2="160.70" y2="419.40" stroke-width="1.15"/>
<line x1="158.00" y1="416.70" x2="158.00" y2="422.10" stroke-width="1.15"/>
<line x1="185.50" y1="419.40" x2="190.90" y2="419.40" stroke-width="1.15"/>
<line x1="188.20" y1="416.70" x2="188.20" y2="422.10" stroke-width="1.15"/>
<line x1="221.00" y1="419.40" x2="226.40" y2="419.40" stroke-width="1.15"/>
<line x1="223.70" y1="416.70" x2="223.70" y2="422.10" stroke-width="1.15"/>
<line x1="231.90" y1="419.40" x2="237.30" y2="419.40" stroke-width="1.15"/>
<line x1="234.60" y1="416.70" x2="234.60" y2="422.10" stroke-width="1.15"/>
<line x1="261.30" y1="419.40" x2="266.70" y2="419.40" stroke-width="1.15"/>
<line x1="264.00" y1="416.70" x2="264.00" y2="422.10" stroke-width="1.15"/>
<line x1="277.10" y1="353.80" x2="282.50" y2="353.80" stroke-width="1.15"/>
<line x1="279.80" y1="351.10" x2="279.80" y2="356.50" stroke-width="1.15"/>
<line x1="277.10" y1="367.20" x2="282.50" y2="367.20" stroke-width="1.15"/>
<line x1="279.80" y1="364.50" x2="279.80" y2="369.90" stroke-width="1.15"/>
<line x1="277.10" y1="397.00" x2="282.50" y2="397.00" stroke-width="1.15"/>
<line x1="279.80" y1="394.30" x2="279.80" y2="399.70" stroke-width="1.15"/>
<line x1="185.10" y1="366.60" x2="190.50" y2="366.60" stroke-width="1.15"/>
<line x1="187.80" y1="363.90" x2="187.80" y2="369.30" stroke-width="1.15"/>
<line x1="185.10" y1="382.80" x2="190.50" y2="382.80" stroke-width="1.15"/>
<line x1="187.80" y1="380.10" x2="187.80" y2="385.50" stroke-width="1.15"/>
<line x1="185.10" y1="396.70" x2="190.50" y2="396.70" stroke-width="1.15"/>
<line x1="187.80" y1="394.00" x2="187.80" y2="399.40" stroke-width="1.15"/>
<line x1="206.80" y1="366.40" x2="212.20" y2="366.40" stroke-width="1.15"/>
<line x1="209.50" y1="363.70" x2="209.50" y2="369.10" stroke-width="1.15"/>
<line x1="206.80" y1="396.70" x2="212.20" y2="396.70" stroke-width="1.15"/>
<line x1="209.50" y1="394.00" x2="209.50" y2="399.40" stroke-width="1.15"/>
<line x1="229.10" y1="366.60" x2="234.50" y2="366.60" stroke-width="1.15"/>
<line x1="231.80" y1="363.90" x2="231.80" y2="369.30" stroke-width="1.15"/>
<line x1="229.10" y1="382.80" x2="234.50" y2="382.80" stroke-width="1.15"/>
<line x1="231.80" y1="380.10" x2="231.80" y2="385.50" stroke-width="1.15"/>
<line x1="229.10" y1="396.70" x2="234.50" y2="396.70" stroke-width="1.15"/>
<line x1="231.80" y1="394.00" x2="231.80" y2="399.40" stroke-width="1.15"/>
<line x1="252.10" y1="366.60" x2="257.50" y2="366.60" stroke-width="1.15"/>
<line x1="254.80" y1="363.90" x2="254.80" y2="369.30" stroke-width="1.15"/>
<line x1="252.10" y1="382.80" x2="257.50" y2="382.80" stroke-width="1.15"/>
<line x1="254.80" y1="380.10" x2="254.80" y2="385.50" stroke-width="1.15"/>
<line x1="252.10" y1="396.70" x2="257.50" y2="396.70" stroke-width="1.15"/>
<line x1="254.80" y1="394.00" x2="254.80" y2="399.40" stroke-width="1.15"/>
<line x1="205.00" y1="345.40" x2="209.50" y2="345.40" stroke-width="0.9"/>
<rect x="178.90" y="362.20" width="34.50" height="37.40" rx="0" stroke-width="1.35" fill="none"/>
<line x1="181.20" y1="362.20" x2="181.20" y2="399.60" stroke-width="1.0"/>
<line x1="183.40" y1="362.20" x2="183.40" y2="399.60" stroke-width="1.0"/>
<line x1="209.60" y1="362.20" x2="209.60" y2="399.60" stroke-width="1.0"/>
<path d="M178.9,399.6 L176.8,401.6 M213.4,399.6 L215,401.4" stroke-width="1.0" fill="none"/>
<rect x="223.00" y="362.20" width="34.30" height="37.40" rx="0" stroke-width="1.35" fill="none"/>
<line x1="225.50" y1="362.20" x2="225.50" y2="399.60" stroke-width="1.0"/>
<line x1="228.80" y1="362.20" x2="228.80" y2="399.60" stroke-width="1.0"/>
<path d="M223,399.6 L221,401.6" stroke-width="1.0" fill="none"/>
<rect x="119.50" y="331.70" width="38.10" height="2.90" rx="0" stroke-width="1.35" fill="none"/>
<rect x="125.50" y="323.60" width="21.10" height="8.10" rx="0" stroke-width="1.35" fill="none"/>
<rect x="128.00" y="298.30" width="16.20" height="25.30" rx="0" stroke-width="1.35" fill="none"/>
<path d="M132.6,301.5 L132.6,319 L139.3,319 L139.3,301.5" stroke-width="1.35" fill="none"/>
<line x1="134.20" y1="301.50" x2="134.20" y2="317.50" stroke-width="0.6"/>
<line x1="128.00" y1="274.00" x2="128.00" y2="298.30" stroke-width="1.0"/>
<line x1="144.20" y1="274.00" x2="144.20" y2="298.30" stroke-width="1.0"/>
<line x1="107.00" y1="281.50" x2="128.00" y2="281.50" stroke-width="1.0"/>
<polygon points="128.00,281.50 120.00,283.30 120.00,279.70" fill="#161616" stroke="none"/>
<line x1="144.20" y1="281.50" x2="187.00" y2="281.50" stroke-width="1.0"/>
<polygon points="144.20,281.50 152.20,279.70 152.20,283.30" fill="#161616" stroke="none"/>
<text x="154.50" y="277.60" font-size="11.5" text-anchor="start" font-weight="bold">D<tspan font-size="6.5" dy="0.8">1</tspan><tspan dy="-1.5">(Y</tspan><tspan font-size="7" dy="1.5">4</tspan><tspan dy="-1.5">)</tspan></text>
<rect x="188.60" y="332.20" width="36.40" height="2.40" rx="0" stroke-width="1.0" fill="#161616"/>
<rect x="236.40" y="331.40" width="25.60" height="3.20" rx="0" stroke-width="1.35" fill="none"/>
<rect x="240.40" y="308.80" width="18.40" height="22.60" rx="0" stroke-width="1.35" fill="none"/>
<line x1="12.00" y1="297.20" x2="128.00" y2="297.20" stroke-width="1.1"/>
<line x1="35.00" y1="323.50" x2="125.50" y2="323.50" stroke-width="1.1"/>
<line x1="47.50" y1="297.80" x2="47.50" y2="323.50" stroke-width="1.0"/>
<polygon points="47.50,297.80 49.30,305.30 45.70,305.30" fill="#161616" stroke="none"/>
<polygon points="47.50,323.50 45.70,316.00 49.30,316.00" fill="#161616" stroke="none"/>
<text x="40.50" y="308.50" font-size="11.5" text-anchor="middle" font-weight="bold" transform="rotate(-90 40.50 308.50)">l<tspan font-size="7" dy="0.8">1</tspan></text>
<line x1="18.80" y1="297.80" x2="18.80" y2="382.80" stroke-width="1.0"/>
<polygon points="18.80,297.80 20.60,306.80 17.00,306.80" fill="#161616" stroke="none"/>
<polygon points="18.80,382.80 17.00,373.80 20.60,373.80" fill="#161616" stroke="none"/>
<text x="17.00" y="334.50" font-size="12" text-anchor="middle" font-weight="bold" transform="rotate(-90 17.00 334.50)">T</text>
<line x1="19.20" y1="382.80" x2="19.20" y2="438.30" stroke-width="1.0"/>
<polygon points="19.20,382.80 21.00,391.80 17.40,391.80" fill="#161616" stroke="none"/>
<polygon points="19.20,438.30 17.40,429.30 21.00,429.30" fill="#161616" stroke="none"/>
<text x="17.00" y="409.00" font-size="11.5" text-anchor="middle" font-weight="bold" transform="rotate(-90 17.00 409.00)">T<tspan font-size="6.5" dy="0.8">1</tspan></text>
<text x="44.20" y="420.00" font-size="12" text-anchor="middle" font-weight="bold" transform="rotate(-90 44.20 420.00)">5</text>
<line x1="46.60" y1="407.70" x2="46.60" y2="435.00" stroke-width="1.0"/>
<polygon points="46.60,435.00 44.80,428.00 48.40,428.00" fill="#161616" stroke="none"/>
<line x1="46.60" y1="438.30" x2="46.60" y2="462.50" stroke-width="1.0"/>
<polygon points="46.60,438.30 48.40,445.30 44.80,445.30" fill="#161616" stroke="none"/>
<line x1="43.60" y1="435.00" x2="143.80" y2="435.00" stroke-width="1.35"/>
<line x1="3.40" y1="438.30" x2="128.70" y2="438.30" stroke-width="1.35"/>
<line x1="128.70" y1="438.30" x2="128.70" y2="463.80" stroke-width="1.35"/>
<line x1="143.80" y1="435.00" x2="143.80" y2="466.30" stroke-width="1.35"/>
<rect x="117.80" y="428.00" width="39.40" height="2.60" rx="0" stroke-width="0.9" fill="none"/>
<line x1="104.40" y1="456.70" x2="128.70" y2="456.70" stroke-width="1.0"/>
<polygon points="128.70,456.70 120.70,458.50 120.70,454.90" fill="#161616" stroke="none"/>
<line x1="143.80" y1="456.70" x2="186.00" y2="456.70" stroke-width="1.0"/>
<polygon points="143.80,456.70 151.80,454.90 151.80,458.50" fill="#161616" stroke="none"/>
<text x="157.50" y="454.00" font-size="11.5" text-anchor="start" font-weight="bold">D<tspan font-size="6.5" dy="0.8">2</tspan><tspan dy="-1.5">(h8)</tspan></text>
<line x1="136.40" y1="472.00" x2="136.40" y2="500.80" stroke-width="1.0"/>
<polygon points="136.40,471.70 138.20,480.70 134.60,480.70" fill="#161616" stroke="none"/>
<text x="127.00" y="492.00" font-size="12.5" text-anchor="middle" font-weight="bold">K</text>
<rect x="187.70" y="427.80" width="31.80" height="3.00" rx="0" stroke-width="1.0" fill="none"/>
<rect x="237.10" y="427.60" width="28.50" height="3.40" rx="0" stroke-width="1.35" fill="none"/>
<rect x="241.30" y="431.00" width="16.00" height="4.30" rx="0" stroke-width="1.35" fill="none"/>
<path d="M244.4,435.3 L244.4,484.6 M257.8,435.3 L257.8,484.6" stroke-width="1.35" fill="none"/>
<rect x="248.00" y="438.60" width="3.80" height="12.60" rx="0" stroke-width="0.9" fill="none"/>
<line x1="257.80" y1="436.40" x2="306.20" y2="436.40" stroke-width="1.1"/>
<line x1="257.80" y1="457.00" x2="343.00" y2="457.00" stroke-width="1.35"/>
<line x1="244.40" y1="457.00" x2="257.80" y2="457.00" stroke-width="1.0"/>
<line x1="299.70" y1="405.00" x2="299.70" y2="476.00" stroke-width="1.0"/>
<polygon points="299.70,436.20 298.20,430.20 301.20,430.20" fill="#161616" stroke="none"/>
<polygon points="299.70,456.80 301.20,462.80 298.20,462.80" fill="#161616" stroke="none"/>
<text x="295.00" y="447.00" font-size="11.5" text-anchor="middle" font-weight="bold" transform="rotate(-90 295.00 447.00)">l</text>
<line x1="219.30" y1="478.30" x2="244.40" y2="478.30" stroke-width="1.0"/>
<polygon points="244.40,478.30 236.40,480.10 236.40,476.50" fill="#161616" stroke="none"/>
<line x1="257.80" y1="478.30" x2="294.60" y2="478.30" stroke-width="1.0"/>
<polygon points="257.80,478.30 265.80,476.50 265.80,480.10" fill="#161616" stroke="none"/>
<text x="265.00" y="474.80" font-size="12" text-anchor="start" font-weight="bold">D(Y<tspan font-size="7" dy="1.5">4</tspan><tspan dy="-1.5">)</tspan></text>
<line x1="240.40" y1="308.80" x2="340.00" y2="308.80" stroke-width="1.35"/>
<line x1="327.40" y1="308.80" x2="327.40" y2="382.80" stroke-width="1.0"/>
<polygon points="327.40,308.80 329.20,317.80 325.60,317.80" fill="#161616" stroke="none"/>
<polygon points="327.40,382.80 325.60,373.80 329.20,373.80" fill="#161616" stroke="none"/>
<line x1="327.40" y1="382.80" x2="327.40" y2="457.00" stroke-width="1.0"/>
<polygon points="327.40,382.80 329.20,391.80 325.60,391.80" fill="#161616" stroke="none"/>
<polygon points="327.40,457.00 325.60,448.00 329.20,448.00" fill="#161616" stroke="none"/>
<text x="323.50" y="350.00" font-size="11" text-anchor="middle" font-weight="normal" transform="rotate(-90 323.50 350.00)" font-style="italic">~S<tspan font-size="7" dy="1.5">1</tspan></text>
<text x="320.50" y="418.00" font-size="10" text-anchor="middle" font-weight="bold" transform="rotate(-90 320.50 418.00)">s</text>
</g>
<g id="forms">
<text x="396.00" y="281.60" font-size="14.5" text-anchor="middle" font-weight="normal" font-family='"Liberation Serif","Noto Serif CJK SC",serif' stroke="none">装</text>
<text x="420.30" y="281.60" font-size="14.5" text-anchor="middle" font-weight="normal" font-family='"Liberation Serif","Noto Serif CJK SC",serif' stroke="none">配</text>
<text x="444.40" y="281.60" font-size="14.5" text-anchor="middle" font-weight="normal" font-family='"Liberation Serif","Noto Serif CJK SC",serif' stroke="none">形</text>
<text x="469.60" y="281.60" font-size="14.5" text-anchor="middle" font-weight="normal" font-family='"Liberation Serif","Noto Serif CJK SC",serif' stroke="none">式</text>
<rect x="358.90" y="331.00" width="73.40" height="36.20" rx="0" stroke-width="1.2" fill="none"/>
<path d="M369.2,331 L369.2,315.8 L390,315.8 L390,331" stroke-width="1.2" fill="none"/>
<path d="M408.2,331 L408.2,317.4 L420.1,317.4 L420.1,331" stroke-width="1.2" fill="none"/>
<path d="M408.2,367.2 L408.2,381.1 L420.1,381.1 L420.1,367.2" stroke-width="1.2" fill="none"/>
<text x="397.30" y="354.70" font-size="11.5" text-anchor="middle" font-weight="bold">1</text>
<rect x="452.70" y="329.70" width="73.10" height="36.10" rx="0" stroke-width="1.2" fill="none"/>
<path d="M501.3,329.7 L501.3,316.6 L513.9,316.6 L513.9,329.7" stroke-width="1.2" fill="none"/>
<path d="M459.6,365.8 L459.6,381.1 L480.5,381.1 L480.5,365.8" stroke-width="1.2" fill="none"/>
<path d="M501.3,365.8 L501.3,380.6 L513.9,380.6 L513.9,365.8" stroke-width="1.2" fill="none"/>
<text x="496.00" y="353.35" font-size="11.5" text-anchor="middle" font-weight="bold">2</text>
<rect x="358.60" y="450.60" width="78.10" height="36.10" rx="0" stroke-width="1.2" fill="none"/>
<path d="M372.8,450.6 L372.8,435.6 L393.6,435.6 L393.6,450.6" stroke-width="1.2" fill="none"/>
<path d="M412.2,450.6 L412.2,436.7 L423.3,436.7 L423.3,450.6" stroke-width="1.2" fill="none"/>
<path d="M372.8,486.7 L372.8,505 L393.6,505 L393.6,486.7" stroke-width="1.2" fill="none"/>
<path d="M412.2,486.7 L412.2,499.4 L423.3,499.4 L423.3,486.7" stroke-width="1.2" fill="none"/>
<text x="390.80" y="474.25" font-size="11.5" text-anchor="middle" font-weight="bold">3</text>
<rect x="466.40" y="449.40" width="75.30" height="36.20" rx="0" stroke-width="1.2" fill="none"/>
<path d="M478.9,449.4 L478.9,433.9 L500.6,433.9 L500.6,449.4" stroke-width="1.2" fill="none"/>
<path d="M517.8,449.4 L517.8,434.7 L530.3,434.7 L530.3,449.4" stroke-width="1.2" fill="none"/>
<path d="M517.8,485.6 L517.8,502.2 L530.3,502.2 L530.3,485.6" stroke-width="1.2" fill="none"/>
<text x="502.20" y="473.10" font-size="11.5" text-anchor="middle" font-weight="bold">4</text>
<path d="M478.9,485.6 L478.9,489.4 L500.6,489.4 L500.6,485.6 M482.2,489.4 L482.2,492 Q482.2,493.2 484,493.2 L496,493.2 Q497.8,493.2 497.8,492 L497.8,489.4" stroke-width="1.2" fill="none"/>
<line x1="483.50" y1="491.30" x2="496.50" y2="491.30" stroke-width="0.7"/>
<rect x="562.50" y="448.60" width="71.40" height="36.10" rx="0" stroke-width="1.2" fill="none"/>
<path d="M611.7,448.6 L611.7,432 L622.8,432 L622.8,448.6" stroke-width="1.2" fill="none"/>
<path d="M575,484.7 L575,500 L594.4,500 L594.4,484.7" stroke-width="1.2" fill="none"/>
<path d="M611.7,484.7 L611.7,498.6 L622.8,498.6 L622.8,484.7" stroke-width="1.2" fill="none"/>
<text x="597.40" y="472.25" font-size="11.5" text-anchor="middle" font-weight="bold">5</text>
<path d="M575,448.6 L575,445.8 L595,445.8 L595,448.6 M578.3,445.8 L578.3,443 Q578.3,441.7 580,441.7 L592,441.7 Q593.6,441.7 593.6,443 L593.6,445.8" stroke-width="1.2" fill="none"/>
<line x1="579.50" y1="443.70" x2="592.50" y2="443.70" stroke-width="0.7"/>
</g>
</svg>
</body></html>
